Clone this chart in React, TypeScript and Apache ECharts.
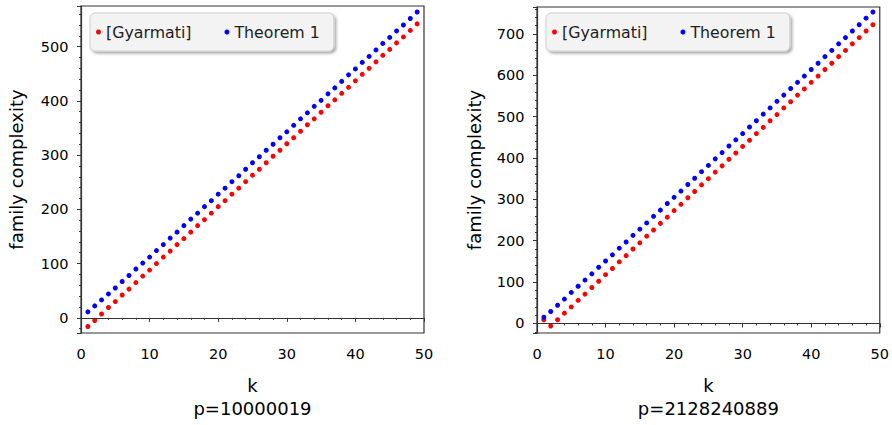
import React, { useEffect, useRef } from "react";
import * as echarts from "echarts";

const ks = Array.from({ length: 49 }, (_, i) => i + 1);

const leftGyarmati = [-16, -5, 7, 19, 30, 42, 53, 65, 77, 88, 100, 112, 123, 135, 146, 158, 170, 181, 193, 205, 216, 228, 239, 251, 263, 274, 286, 298, 309, 321, 332, 344, 356, 367, 379, 391, 402, 414, 425, 437, 449, 460, 472, 484, 495, 507, 518, 530, 542];
const leftTheorem = [11, 22, 33, 44, 55, 67, 78, 90, 101, 112, 124, 135, 147, 158, 170, 182, 193, 205, 216, 228, 239, 251, 262, 274, 286, 297, 309, 320, 332, 343, 355, 367, 378, 390, 401, 413, 424, 436, 448, 459, 471, 482, 494, 506, 517, 529, 540, 552, 564];
const rightGyarmati = [9, -6, 9, 25, 40, 56, 71, 87, 102, 118, 133, 149, 164, 180, 195, 211, 226, 242, 257, 273, 288, 304, 319, 335, 350, 366, 381, 397, 412, 428, 443, 459, 474, 490, 505, 521, 536, 552, 567, 583, 598, 614, 629, 645, 660, 676, 691, 707, 722];
const rightTheorem = [15, 29, 44, 59, 75, 90, 105, 120, 136, 151, 166, 182, 197, 213, 228, 243, 259, 274, 290, 305, 320, 336, 351, 367, 382, 398, 413, 429, 444, 459, 475, 490, 506, 521, 537, 552, 568, 583, 598, 614, 629, 645, 660, 676, 691, 707, 722, 738, 753];

const leftTitle = "p=10000019";
const rightTitle = "p=2128240889";
const seriesNames = ["[Gyarmati]", "Theorem 1"];
const xTicks = [0, 10, 20, 30, 40, 50];

const FONT = "DejaVu Sans";
const FRAME = "#333";

function pairs(vals: number[]) {
  return vals.map((v, i) => [ks[i], v]);
}

export default function App() {
  const ref = useRef<HTMLDivElement>(null);
  useEffect(() => {
    const chart = echarts.init(ref.current!, undefined, { renderer: "svg" });
    const xAxisBase = (gridIndex: number, title: string) => ({
      type: "value",
      gridIndex,
      min: xTicks[0],
      max: xTicks[xTicks.length - 1],
      interval: 10,
      name: "k\n" + title,
      nameLocation: "middle",
      nameGap: 41,
      nameTextStyle: { fontFamily: FONT, fontSize: 18, color: "#000", lineHeight: 23 },
      axisLine: { show: true, lineStyle: { color: FRAME, width: 1.2 } },
      axisTick: { show: true, inside: false, length: 4, lineStyle: { color: FRAME } },
      minorTick: { show: true, splitNumber: 5, length: 2, lineStyle: { color: FRAME } },
      splitLine: { show: false },
      axisLabel: { fontFamily: FONT, fontSize: 14.5, color: "#000", margin: 13 },
    });
    const yAxisBase = (gridIndex: number, min: number, max: number, splitNumber: number, nameGap: number) => ({
      type: "value",
      gridIndex,
      min,
      max,
      splitNumber,
      name: "family complexity",
      nameLocation: "middle",
      nameGap,
      nameTextStyle: { fontFamily: FONT, fontSize: 18, color: "#000" },
      axisLine: { show: true, lineStyle: { color: FRAME, width: 1.2 } },
      axisTick: { show: true, inside: false, length: 4, lineStyle: { color: FRAME } },
      minorTick: { show: true, splitNumber: 5, length: 2, lineStyle: { color: FRAME } },
      splitLine: { show: false },
      axisLabel: {
        fontFamily: FONT,
        fontSize: 14.5,
        color: "#000",
        margin: 12.5,
        formatter: (v: number) => (Math.abs(v % 100) < 1e-6 ? String(v) : ""),
      },
    });
    const scatter = (name: string, color: string, idx: number, data: number[][], withLine: boolean) => ({
      type: "scatter",
      name,
      xAxisIndex: idx,
      yAxisIndex: idx,
      symbol: "circle",
      symbolSize: 5,
      itemStyle: { color, opacity: 1 },
      data,
      markLine: withLine
        ? {
            silent: true,
            symbol: "none",
            label: { show: false },
            lineStyle: { color: FRAME, type: "solid", width: 1.2 },
            data: [{ yAxis: 0 }],
          }
        : undefined,
    });
    const legendBase = (left: number) => ({
      left,
      top: 13,
      orient: "horizontal",
      data: seriesNames,
      icon: "circle",
      itemWidth: 5,
      itemHeight: 5,
      itemGap: 33,
      padding: [11, 14, 11, 6],
      backgroundColor: "#f3f3f3",
      borderColor: "#cfcfcf",
      borderWidth: 1,
      borderRadius: 5,
      shadowColor: "rgba(0,0,0,0.35)",
      shadowBlur: 3,
      shadowOffsetX: 2,
      shadowOffsetY: 2,
      textStyle: { fontFamily: FONT, fontSize: 15.8, color: "#222" },
      selectedMode: false,
    });
    chart.setOption({
      animation: false,
      backgroundColor: "#fff",
      grid: [
        { left: 81, top: 6, width: 343, height: 332, show: true, borderColor: FRAME, borderWidth: 1.2, backgroundColor: "#fff" },
        { left: 537, top: 7, width: 344, height: 332, show: true, borderColor: FRAME, borderWidth: 1.2, backgroundColor: "#fff" },
      ],
      xAxis: [xAxisBase(0, leftTitle), xAxisBase(1, rightTitle)],
      yAxis: [yAxisBase(0, -28, 575, 6, 56), yAxisBase(1, -23, 765, 8, 54)],
      legend: [legendBase(90), legendBase(546)],
      series: [
        scatter(seriesNames[0], "#ff0000", 0, pairs(leftGyarmati), true),
        scatter(seriesNames[1], "#0000ff", 0, pairs(leftTheorem), false),
        scatter(seriesNames[0], "#ff0000", 1, pairs(rightGyarmati), true),
        scatter(seriesNames[1], "#0000ff", 1, pairs(rightTheorem), false),
      ],
    });
    return () => chart.dispose();
  }, []);
  return (
    <div
      ref={ref}
      style={{ position: "absolute", left: 0, top: 0, width: 892, height: 425 }}
    />
  );
}
